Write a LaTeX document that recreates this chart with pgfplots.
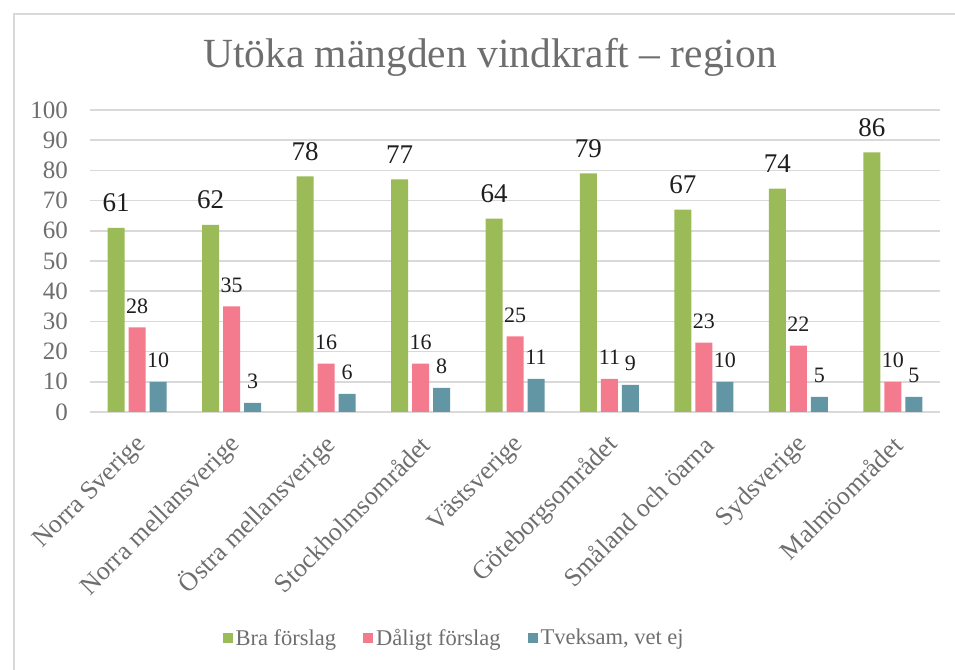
\documentclass[border=0pt]{standalone}
\usepackage{pgfplots}
\pgfplotsset{compat=1.18}
\usepackage{fontspec}
\setmainfont{Liberation Serif}
\definecolor{cgreen}{RGB}{155,187,89}
\definecolor{cpink}{RGB}{244,123,141}
\definecolor{cteal}{RGB}{99,150,165}
\definecolor{ctext}{RGB}{110,110,110}
\definecolor{cgrid}{RGB}{217,217,217}
\definecolor{clabel}{RGB}{30,30,30}
\begin{document}
\begin{tikzpicture}[x=1pt,y=1pt]
\useasboundingbox (0,0) rectangle (955,669);
\draw[cgrid, line width=1.5pt] (14,-20) -- (14,655) -- (980,655);
\node[text=ctext, font=\fontsize{41.5}{48}\selectfont] at (490,612) {Utöka mängden vindkraft – region};
\begin{axis}[
  at={(90pt,257pt)}, anchor=south west,
  scale only axis, width=850pt, height=302pt,
  ymin=0, ymax=100, xmin=-0.5, xmax=8.5,
  ybar=4pt, bar width=17pt,
  axis x line*=bottom, axis y line*=left,
  x axis line style={cgrid, line width=1.5pt, -},
  y axis line style={draw=none},
  ymajorgrids, grid style={cgrid, line width=1.5pt},
  major tick length=0pt,
  ytick={0,10,...,100},
  xtick=\empty,
  /pgf/number format/assume math mode=true,
  yticklabel style={xshift=-22pt, anchor=east, inner sep=0pt, text=ctext, font=\fontsize{25}{30}\selectfont},
  clip=false,
  nodes near coords,
  every node near coord/.append style={anchor=base, text=clabel},
  legend style={at={(0.429,-0.748)}, anchor=center, legend columns=3, draw=none, fill=none,
    font=\fontsize{22.5}{26}\selectfont, text=ctext, inner sep=0pt, nodes={inner sep=3pt},
    /tikz/every even column/.append style={column sep=24pt}},
  legend image code/.code={\fill[#1] (0pt,-5pt) rectangle (10pt,5pt);},
]
\addplot[fill=cgreen, draw=none, every node near coord/.append style={font=\fontsize{27}{30}\selectfont, yshift=16pt}] coordinates {(0,61) (1,62) (2,78) (3,77) (4,64) (5,79) (6,67) (7,74) (8,86)};
\addplot[fill=cpink, draw=none, every node near coord/.append style={font=\fontsize{22}{26}\selectfont, yshift=14pt}] coordinates {(0,28) (1,35) (2,16) (3,16) (4,25) (5,11) (6,23) (7,22) (8,10)};
\addplot[fill=cteal, draw=none, every node near coord/.append style={font=\fontsize{22}{26}\selectfont, yshift=14pt}] coordinates {(0,10) (1,3) (2,6) (3,8) (4,11) (5,9) (6,10) (7,5) (8,5)};
\legend{Bra förslag, Dåligt förslag, {Tveksam, vet ej}}
\foreach \i/\t in {0/Norra Sverige, 1/Norra mellansverige, 2/Östra mellansverige, 3/Stockholmsområdet, 4/Västsverige, 5/Göteborgsområdet, 6/Småland och öarna, 7/Sydsverige, 8/Malmöområdet} {
  \edef\temp{\noexpand\node[rotate=45, anchor=east, inner sep=0pt, text=ctext, font=\noexpand\fontsize{26}{30}\noexpand\selectfont] at ([xshift=5pt,yshift=-29pt]axis cs:\i,0) {\t};}
  \temp
}
\end{axis}
\end{tikzpicture}
\end{document}
